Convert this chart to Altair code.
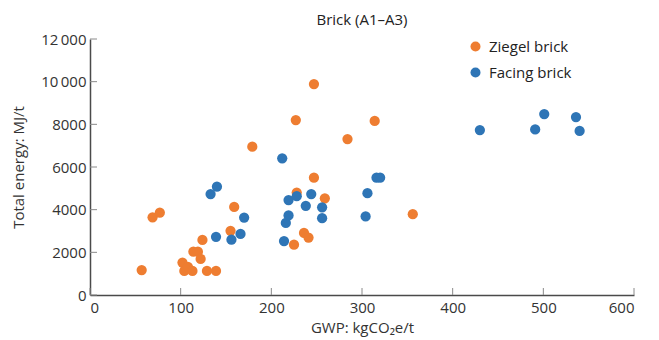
import altair as alt
import pandas as pd

# Ziegel brick (orange)
ziegel_gwp = [57, 69, 77, 102, 104, 108, 113, 114, 119, 122, 124, 129, 139, 155, 159,
              179, 225, 227, 228, 236, 241, 247, 247, 259, 284, 314, 356]
ziegel_energy = [1170, 3640, 3860, 1520, 1130, 1320, 1130, 2030, 2030, 1690, 2580, 1130, 1130, 3010, 4130,
                 6950, 2360, 8200, 4800, 2910, 2690, 9890, 5500, 4530, 7310, 8160, 3790]

# Facing brick (blue)
facing_gwp = [133, 140, 139, 156, 166, 170, 212, 214, 216, 219, 219, 228, 238, 244, 256,
              256, 304, 306, 316, 320, 430, 491, 501, 536, 540]
facing_energy = [4730, 5080, 2730, 2590, 2860, 3630, 6410, 2530, 3380, 3730, 4450, 4630, 4180, 4730, 4110,
                 3600, 3680, 4770, 5500, 5500, 7730, 7760, 8480, 8340, 7690]

series = ["Ziegel brick", "Facing brick"]
colors = ["#EE7D31", "#2E75B6"]

x_ticks = [0, 100, 200, 300, 400, 500, 600]
y_ticks = [0, 2000, 4000, 6000, 8000, 10000, 12000]

df = pd.concat([
    pd.DataFrame({"gwp": ziegel_gwp, "energy": ziegel_energy, "type": series[0]}),
    pd.DataFrame({"gwp": facing_gwp, "energy": facing_energy, "type": series[1]}),
], ignore_index=True)

FONT = "Open Sans"
FS = 15
W, H = 544, 256

xscale = alt.Scale(domain=[0, 600], nice=False, zero=True)
yscale = alt.Scale(domain=[0, 12000], nice=False, zero=True)

points = alt.Chart(df).mark_circle(size=105, opacity=1).encode(
    x=alt.X("gwp:Q", scale=xscale,
            axis=alt.Axis(values=x_ticks, title="GWP: kgCO₂e/t", titlePadding=5, labelPadding=5)),
    y=alt.Y("energy:Q", scale=yscale,
            axis=alt.Axis(values=y_ticks, title="Total energy: MJ/t", titlePadding=14, labelPadding=4,
                          labelExpr="datum.value >= 10000 ? format(floor(datum.value/1000), 'd') + '\u2009000' : format(datum.value, 'd')")),
    color=alt.Color("type:N", scale=alt.Scale(domain=series, range=colors),
                    legend=alt.Legend(title=None, orient="none", legendX=378, legendY=0,
                                      symbolSize=100, symbolType="circle", labelFontSize=FS,
                                      labelFont=FONT, labelColor="#222", rowPadding=10, padding=0,
                                      labelOffset=6)),
    order=alt.Order("idx:Q"),
).transform_window(idx="row_number()")

xt = alt.Chart(pd.DataFrame({"v": x_ticks})).mark_rule(color="#8a8a8a", strokeWidth=1).encode(
    x=alt.X("v:Q", scale=xscale), y=alt.value(H), y2=alt.value(H - 7))
yt = alt.Chart(pd.DataFrame({"v": y_ticks})).mark_rule(color="#8a8a8a", strokeWidth=1).encode(
    y=alt.Y("v:Q", scale=yscale), x=alt.value(0), x2=alt.value(7))

chart = alt.layer(xt, yt, points).properties(
    width=W, height=H,
    title=alt.TitleParams("Brick (A1–A3)", font=FONT, fontSize=FS, fontWeight="normal",
                          color="#222", anchor="middle", offset=4),
    autosize=alt.AutoSizeParams(type="none"),
    padding={"left": 90, "top": 39, "right": 25, "bottom": 45},
).configure_view(stroke=None).configure_axis(
    grid=False, ticks=False, domainColor="#4a4a4a", domainWidth=1.5,
    labelFont=FONT, labelFontSize=FS, labelColor="#333",
    titleFont=FONT, titleFontSize=FS, titleFontWeight="normal", titleColor="#333",
)

chart.save("out.html", embed_options={"renderer": "svg", "actions": False})
